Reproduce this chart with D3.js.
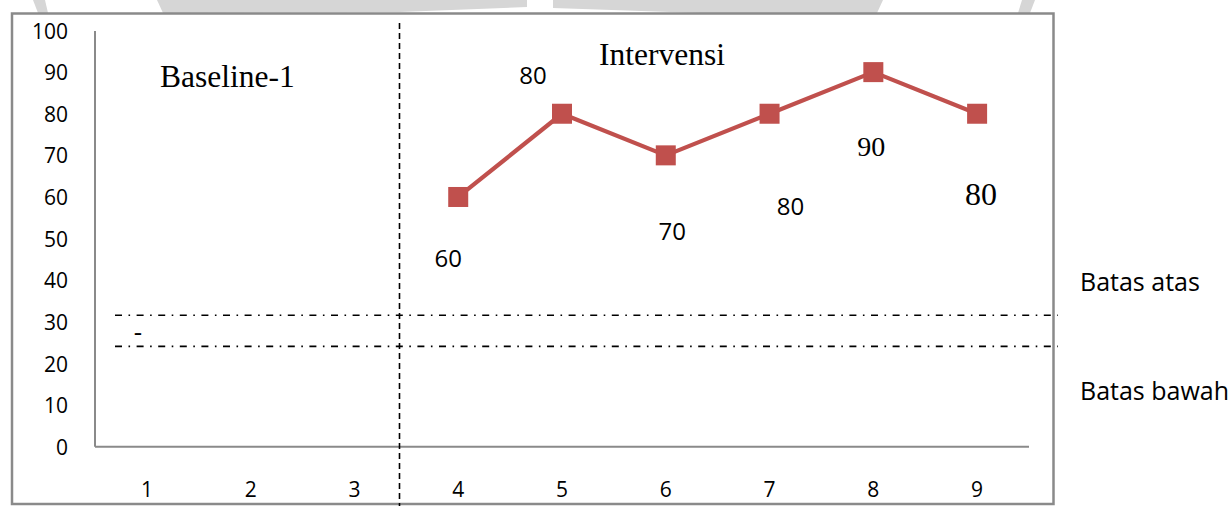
<!DOCTYPE html>
<html>
<head>
<meta charset="utf-8">
<script src="https://cdn.jsdelivr.net/npm/d3@7"></script>
<style>
  html, body { margin: 0; padding: 0; background: #fff; }
  svg { display: block; }
</style>
</head>
<body>
<svg id="chart" width="1232" height="506"></svg>
<script>
// Sessions on the x axis and the scores recorded per session
const categories = [1, 2, 3, 4, 5, 6, 7, 8, 9];
const sessions = [4, 5, 6, 7, 8, 9];
const scores = [60, 80, 70, 80, 90, 80];
const yTicks = [0, 10, 20, 30, 40, 50, 60, 70, 80, 90, 100];

// Reference bands
const batasAtas = 31.6;
const batasBawah = 24.1;

// Placement of each value label relative to its marker
const labelLayout = [
  { dx: -10, dy: 70, serif: false, size: 24 },
  { dx: -29, dy: -30, serif: false, size: 24 },
  { dx: 6.5, dy: 85, serif: false, size: 24 },
  { dx: 21, dy: 101, serif: false, size: 24 },
  { dx: -2, dy: 84, serif: true, size: 28 },
  { dx: 4, dy: 91, serif: true, size: 32 }
];

const SANS = "'Open Sans', 'Noto Sans', sans-serif";
const SERIF = "'Liberation Serif', 'DejaVu Serif', serif";
const RED = "#c0504d";
const GREY = "#8a8a8a";

const svg = d3.select("#chart");

// Faint background watermark visible above the frame
const watermark = [
  [[33, 0], [45, 0], [48, 13], [38, 13]],
  [[157, 0], [527, 0], [527, 7], [400, 12], [163, 13]],
  [[553, 0], [883, 0], [877, 13], [700, 13], [553, 8]],
  [[1022, 0], [1035, 0], [1030, 13], [1018, 13]]
];
svg.append("g").selectAll("polygon").data(watermark).join("polygon")
  .attr("points", d => d.map(p => p.join(",")).join(" "))
  .attr("fill", "#d6d6d6");

// Chart frame
svg.append("rect")
  .attr("x", 12).attr("y", 13.5).attr("width", 1041.5).attr("height", 490.5)
  .attr("fill", "#fff").attr("stroke", GREY).attr("stroke-width", 2.5);

const x = d3.scaleBand().domain(categories).range([95, 1029]);
const y = d3.scaleLinear().domain([0, 100]).range([446.7, 30.5]);
const cx = d => x(d) + x.bandwidth() / 2;

// Axes
const yAxis = svg.append("g").attr("transform", "translate(95,0)")
  .call(d3.axisLeft(y).tickValues(yTicks).tickSize(0).tickPadding(27));
yAxis.select(".domain").attr("stroke", GREY).attr("stroke-width", 2)
  .attr("d", `M0,${y(100) + 0.5}V${y(0)}`);
yAxis.selectAll("text").attr("font-family", SANS).attr("font-size", 21)
  .attr("fill", "#000").attr("dy", "0.36em");

const xAxis = svg.append("g").attr("transform", `translate(0,${y(0)})`)
  .call(d3.axisBottom(x).tickSize(0).tickPadding(0));
xAxis.select(".domain").attr("stroke", GREY).attr("stroke-width", 2)
  .attr("d", "M95,0H1029");
xAxis.selectAll("text").attr("font-family", SANS).attr("font-size", 21)
  .attr("fill", "#000").attr("dy", null).attr("y", 50);

svg.selectAll(".tick line").remove();

// Upper and lower reference lines (dash-dot)
svg.append("g").selectAll("line").data([batasAtas, batasBawah]).join("line")
  .attr("x1", 115).attr("x2", 1058)
  .attr("y1", d => y(d)).attr("y2", d => y(d))
  .attr("stroke", "#000").attr("stroke-width", 1.6)
  .attr("stroke-dasharray", "7,6.5,1.6,6.5");

svg.append("text").attr("x", 138).attr("y", 341)
  .attr("text-anchor", "middle").attr("font-family", SANS).attr("font-size", 26)
  .text("-");

// Phase divider between baseline and intervention
svg.append("line")
  .attr("x1", 399.5).attr("x2", 399.5).attr("y1", 23).attr("y2", 506)
  .attr("stroke", "#000").attr("stroke-width", 1.6)
  .attr("stroke-dasharray", "6,4");

// Phase titles
svg.append("text").attr("x", 160).attr("y", 87)
  .attr("font-family", SERIF).attr("font-size", 31.5).text("Baseline-1");
svg.append("text").attr("x", 599).attr("y", 65)
  .attr("font-family", SERIF).attr("font-size", 31.5).text("Intervensi");

// Band captions
svg.append("text").attr("x", 1080).attr("y", 291)
  .attr("font-family", SANS).attr("font-size", 25).text("Batas atas");
svg.append("text").attr("x", 1080).attr("y", 400)
  .attr("font-family", SANS).attr("font-size", 25).text("Batas bawah");

// Score series
const points = sessions.map((s, i) => ({ s, v: scores[i], l: labelLayout[i] }));

svg.append("path").datum(points)
  .attr("fill", "none").attr("stroke", RED).attr("stroke-width", 4.2)
  .attr("stroke-linejoin", "round")
  .attr("d", d3.line().x(d => cx(d.s)).y(d => y(d.v)));

svg.append("g").selectAll("rect").data(points).join("rect")
  .attr("x", d => cx(d.s) - 10).attr("y", d => y(d.v) - 10)
  .attr("width", 20).attr("height", 20).attr("fill", RED);

svg.append("g").selectAll("text").data(points).join("text")
  .attr("x", d => cx(d.s) + d.l.dx).attr("y", d => y(d.v) + d.l.dy)
  .attr("text-anchor", "middle")
  .attr("font-family", d => d.l.serif ? SERIF : SANS)
  .attr("font-size", d => d.l.size)
  .text(d => d.v);
</script>
</body>
</html>
